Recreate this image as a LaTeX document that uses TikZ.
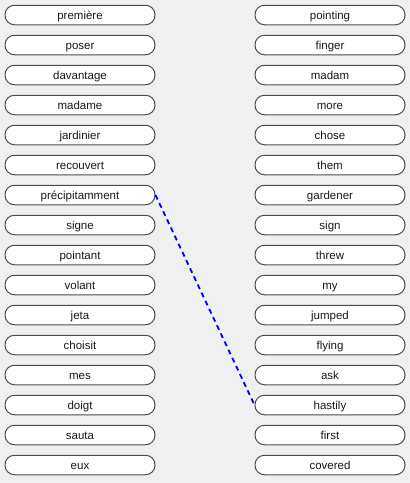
\documentclass[tikz,border=0pt]{standalone}
\usepackage{fontspec}
\setmainfont{Liberation Sans}
\begin{document}
\begin{tikzpicture}[x=1pt,y=-1pt,
  word/.style={draw=black!70, fill=white, line width=1pt, rounded corners=9.5pt,
    minimum width=150pt, minimum height=19.5pt, inner sep=0pt,
    text height=9.5pt, text depth=1pt,
    font=\fontsize{11.5pt}{13pt}\selectfont, text=black!90},
  link/.style={draw=blue, line width=1.8pt, dash pattern=on 5pt off 4pt}]
\fill[black!6] (0,0) rectangle (410,483);
\useasboundingbox (0,0) rectangle (410,483);
\foreach \w [count=\i from 0] in {première,poser,davantage,madame,jardinier,recouvert,précipitamment,signe,pointant,volant,jeta,choisit,mes,doigt,sauta,eux}
  \node[word] (L\i) at (80,{15+30*\i}) {\w};
\foreach \w [count=\i from 0] in {pointing,finger,madam,more,chose,them,gardener,sign,threw,my,jumped,flying,ask,hastily,first,covered}
  \node[word] (R\i) at (330,{15+30*\i}) {\w};
\draw[link] (L6.east) -- (R13.west);
\end{tikzpicture}
\end{document}
